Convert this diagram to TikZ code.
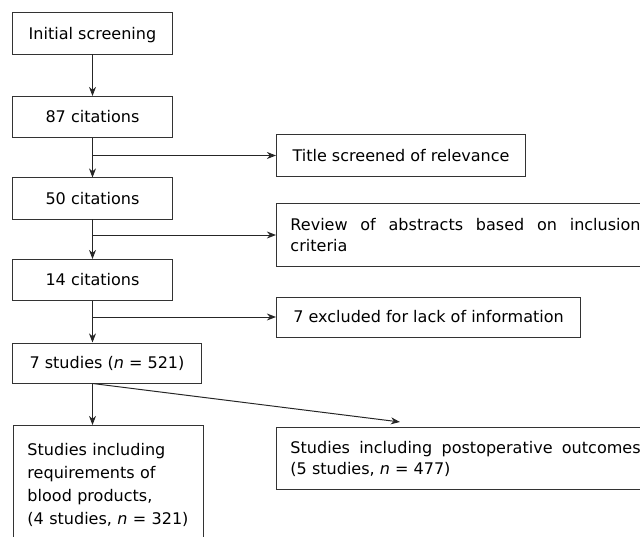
\documentclass[tikz,border=0pt]{standalone}
\usepackage{fontspec}
\setmainfont{DejaVu Sans}
\usetikzlibrary{arrows.meta}

\tikzset{
  box/.style={draw=black!80, line width=0.7pt, inner xsep=0.35cm, font=\fontsize{11.4}{15}\selectfont},
  citebox/.style={box, minimum width=3.975cm, minimum height=1.025cm, text height=0.3cm, text depth=0cm},
  sidebox/.style={box, anchor=west, minimum height=1.025cm, text height=0.3cm, text depth=0cm},
  widebox/.style={box, anchor=north west, text width=8.75cm, align=justify, minimum height=1.575cm, font=\fontsize{11.4}{14.9}\selectfont},
  arr/.style={-{Stealth[length=6.5pt,width=5pt]}, line width=0.7pt, draw=black!85}
}

\begin{document}
\begin{tikzpicture}[x=0.025cm, y=-0.025cm]
\useasboundingbox (0,0) rectangle (640,537);
% main column
\node[citebox] (init) at (92.5,33.5) {Initial screening};
\node[citebox] (c87) at (92.5,117) {87 citations};
\node[citebox] (c50) at (92.5,198.5) {50 citations};
\node[citebox] (c14) at (92.5,280) {14 citations};
\node[citebox, minimum width=4.7cm, minimum height=1cm] (studies) at (107,363) {7 studies (\textit{n} = 521)};
\node[box, anchor=north west, text width=4.05cm, align=left, inner ysep=0.45cm, font=\fontsize{11.4}{16.4}\selectfont] (blood) at (13,425)
  {Studies including\\ requirements of\\ blood products,\\ (4 studies, \textit{n} = 321)};
% side boxes
\node[sidebox, minimum width=6.225cm] (title) at (276,155.5) {Title screened of relevance};
\node[widebox] (review) at (276,203) {Review of abstracts based on inclusion\linebreak criteria};
\node[sidebox, minimum width=7.6cm, minimum height=1cm] (excl) at (276,317) {7 excluded for lack of information};
\node[widebox, minimum height=1.55cm] (post) at (276,427) {Studies including postoperative outcomes\linebreak (5 studies, \textit{n} = 477)};
\coordinate (fork) at (c14.south |- studies.south);
\coordinate (postin) at (400,422);
% connectors
\draw[arr] (init) -- (c87);
\draw[arr] (c87) -- (c50);
\draw[arr] (c50) -- (c14);
\draw[arr] (c14.south) -- (c14.south |- studies.north);
\draw[arr] (c87.south |- title.west) -- (title.west);
\draw[arr] (c50.south |- review.west) -- (review.west);
\draw[arr] (c14.south |- excl.west) -- (excl.west);
\draw[arr] (fork) -- (fork |- blood.north);
\draw[arr] (fork) -- (postin);
\end{tikzpicture}
\end{document}
